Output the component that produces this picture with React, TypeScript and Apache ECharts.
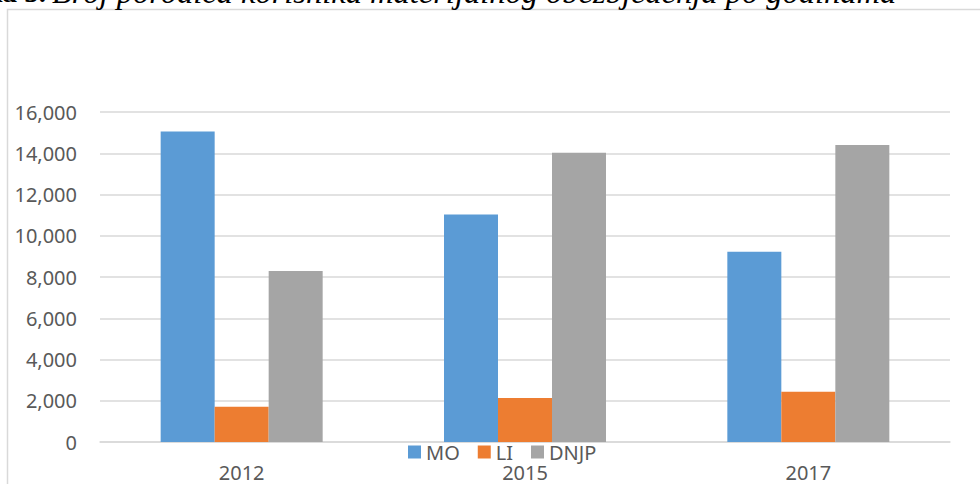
import React, { useEffect, useRef } from "react";
import * as echarts from "echarts";

const categories = ["2012", "2015", "2017"];
const seriesNames = ["MO", "LI", "DNJP"];
const moValues = [15050, 11030, 9230];
const liValues = [1710, 2130, 2440];
const dnjpValues = [8290, 14020, 14400];
const yMin = 0;
const yMax = 16000;
const yInterval = 2000;
const titleBold = "Slika 5.";
const titleItalic = "Broj porodica korisnika materijalnog obezbjeđenja po godinama";

const colors = ["#5b9bd5", "#ed7d31", "#a5a5a5"];
const FONT = "'Noto Sans', sans-serif";

export default function App() {
  const ref = useRef<HTMLDivElement>(null);
  useEffect(() => {
    if (!ref.current) return;
    const chart = echarts.init(ref.current, null, { renderer: "svg" });
    const values = [moValues, liValues, dnjpValues];
    chart.setOption({
      animation: false,
      backgroundColor: "#ffffff",
      textStyle: { fontFamily: FONT },
      grid: { left: 100, right: 30, top: 112, bottom: 42 },
      legend: {
        data: seriesNames,
        left: 403,
        top: 437,
        icon: "rect",
        itemWidth: 13,
        itemHeight: 13,
        itemGap: 18,
        textStyle: { fontSize: 20, color: "#595959", fontFamily: FONT },
      },
      xAxis: {
        type: "category",
        data: categories,
        axisLine: { lineStyle: { color: "#d9d9d9", width: 1.5 } },
        axisTick: { show: false },
        axisLabel: { fontSize: 20, color: "#595959", margin: 20, fontFamily: FONT },
      },
      yAxis: {
        type: "value",
        min: yMin,
        max: yMax,
        interval: yInterval,
        axisLine: { show: false },
        axisTick: { show: false },
        axisLabel: {
          fontSize: 20,
          color: "#595959",
          margin: 23,
          fontFamily: FONT,
          formatter: (v: number) => v.toLocaleString("en-US"),
        },
        splitLine: { lineStyle: { color: "#d9d9d9", width: 1.5 } },
      },
      series: seriesNames.map((name, i) => ({
        name,
        type: "bar",
        data: values[i],
        barWidth: 54,
        barGap: "0%",
        itemStyle: { color: colors[i] },
      })),
      graphic: [
        {
          type: "rect",
          shape: { x: 7.5, y: 9.5, width: 1100, height: 600 },
          style: { fill: "none", stroke: "#d9d9d9", lineWidth: 1.5 },
          silent: true,
        },
        {
          type: "text",
          x: 46,
          y: -8,
          style: {
            text: titleBold,
            fontFamily: "'Liberation Serif', serif",
            fontWeight: "bold",
            fontSize: 29,
            fill: "#000000",
            align: "right",
            verticalAlign: "middle",
          },
        },
        {
          type: "text",
          x: 52,
          y: -8,
          style: {
            text: titleItalic,
            fontFamily: "'Liberation Serif', serif",
            fontStyle: "italic",
            fontSize: 32.5,
            fill: "#000000",
            verticalAlign: "middle",
          },
        },
      ],
    });
    return () => chart.dispose();
  }, []);
  return (
    <div
      ref={ref}
      style={{ position: "absolute", left: 0, top: 0, width: 980, height: 484 }}
    />
  );
}
